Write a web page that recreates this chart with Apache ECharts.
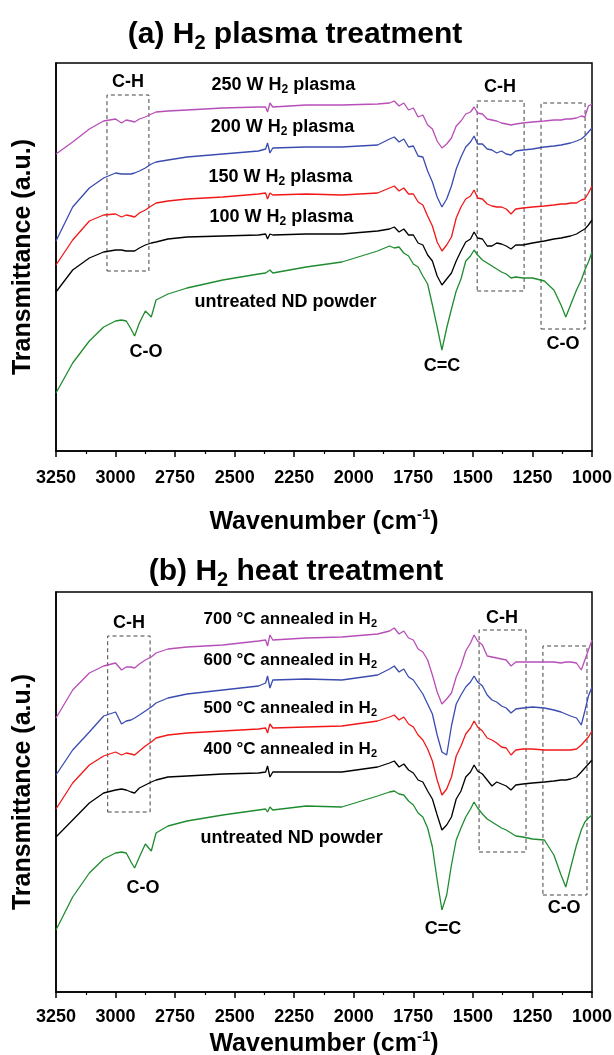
<!DOCTYPE html>
<html>
<head>
<meta charset="utf-8">
<script src="https://cdn.jsdelivr.net/npm/echarts@6/dist/echarts.min.js"></script>
<style>html,body{margin:0;padding:0;background:#fff}#chart{width:614px;height:1055px}</style>
</head>
<body>
<div id="chart"></div>
<script>
// wavenumber grid shared by all spectra (cm-1)
const wn = [3250,3180,3110,3050,3000,2975,2955,2935,2920,2900,2875,2850,2830,2780,2700,2550,2400,2370,2362,2352,2340,2200,2050,1900,
  1850,1830,1810,1790,1770,1750,1730,1710,1690,1670,1650,1630,1610,1590,1570,1550,1530,1510,1495,1480,
  1460,1440,1420,1400,1380,1360,1340,1320,1290,1250,1200,1160,1130,1110,1090,1065,1045,1030,1015,1000]

// (a) H2 plasma treatment, transmittance (a.u., offset stacked)
const plasma250 = [297,309,322,330,332,328,331,330,329,332,334,337,339,340,341,343,344,344,339,348,344,346,346,347,
  348,350,345,348,341,343,334,336,326,322,310,303,307,313,325,330,337,339,344,338,
  337,332,331,330,328,327,326,327,328,329,330,331,331,332,332,333,335,334,345,347]
const plasma200 = [210,244,263,273,278,277,277,277,278,280,283,287,289,291,294,297,300,302,308,298,303,304,304,306,
  312,314,309,312,304,305,295,294,280,269,254,244,252,265,282,294,304,309,315,307,
  307,302,301,298,300,297,296,300,301,302,304,305,306,307,308,310,312,315,319,323]
const plasma150 = [186,211,230,236,237,234,236,235,234,238,241,245,248,250,252,254,257,258,252,258,256,257,256,258,
  263,265,260,263,257,257,249,246,235,225,209,200,206,214,233,244,252,255,261,253,
  252,247,245,244,244,242,237,242,243,244,245,246,247,247,248,248,251,252,258,265]
const plasma100 = [159,181,193,199,201,201,200,200,200,203,206,208,209,212,214,215,216,217,212,217,216,217,217,220,
  222,224,219,222,216,216,208,206,196,190,175,166,172,178,190,200,209,212,219,213,
  212,205,205,208,207,205,202,206,206,208,210,212,213,214,215,217,220,222,226,231]
const untreatedA = [58,88,110,124,130,131,130,122,115,128,140,134,151,157,163,171,177,178,176,181,178,184,189,
  200,205,203,204,198,195,187,184,175,167,146,124,101,123,142,160,172,190,195,201,196,
  191,188,185,182,179,177,173,174,173,173,170,161,146,134,146,161,171,181,189,199]

// (b) H2 heat treatment
const heat700 = [274,302,319,326,329,322,325,325,324,328,332,335,339,343,345,347,351,352,346,357,352,354,355,358,
  361,364,358,361,354,352,343,340,332,317,300,288,293,299,315,326,341,349,357,351,
  347,336,335,334,333,332,326,330,330,330,330,330,329,330,330,329,322,332,342,352]
const heat600 = [217,242,260,276,280,268,271,272,274,277,281,285,289,294,298,302,306,309,316,304,312,313,312,317,
  323,326,320,323,315,312,305,298,288,278,257,240,237,266,288,297,305,310,316,310,
  306,297,292,290,286,284,279,283,284,285,284,282,280,278,276,274,267,281,296,305]
const heat500 = [183,209,227,236,240,237,239,238,237,241,246,250,254,257,259,261,263,264,259,268,264,265,266,271,
  275,277,272,275,268,265,257,252,243,231,212,197,203,215,236,246,258,264,271,265,
  261,254,252,249,245,244,237,242,243,243,242,242,242,242,242,243,247,251,255,261]
const heat400 = [155,172,189,199,202,203,202,200,199,204,207,210,212,215,216,218,219,220,226,215,220,220,220,225,
  229,231,225,228,222,219,212,210,201,193,177,162,167,175,193,201,215,220,227,221,
  218,212,206,210,208,206,202,207,208,209,210,211,212,212,213,215,220,224,228,232]
const untreatedB = [62,95,119,133,139,140,139,130,124,135,148,141,159,166,171,177,182,183,180,185,182,186,185,196,
  200,201,198,197,191,187,179,175,164,145,112,82,97,127,152,164,175,183,190,184,
  178,173,170,167,164,162,159,156,155,153,152,137,117,105,124,147,162,170,174,177]

// dashed boxes: [wn1, y1, wn2, y2]
const boxesA = [[3036,180,2860,356],[1482,160,1285,350],[1214,122,1029,348]]
const boxesB = [[3033,180,2855,356],[1474,140,1277,362],[1206,97,1021,346]]

// text notes: [text, wn, y, anchor] (l = starts at point, c = centred)
const notesA = [
  ['{n|C-H}', 2948, 369, 'c'], ['{n|C-H}', 1386, 364, 'c'], ['{n|C-O}', 1122, 107, 'c'],
  ['{n|C=C}', 1630, 85, 'c'], ['{n|C-O}', 2872, 99, 'c'],
  ['{n|250 W H}{s|2}{n| plasma}', 2599, 366, 'l'],
  ['{n|200 W H}{s|2}{n| plasma}', 2603, 324, 'l'],
  ['{n|150 W H}{s|2}{n| plasma}', 2612, 274, 'l'],
  ['{n|100 W H}{s|2}{n| plasma}', 2608, 234, 'l'],
  ['{n|untreated ND powder}', 2671, 149, 'l']
]
const notesB = [
  ['{n|C-H}', 2944, 369, 'c'], ['{n|C-H}', 1378, 374, 'c'], ['{n|C-O}', 1117, 84, 'c'],
  ['{n|C=C}', 1625, 63, 'c'], ['{n|C-O}', 2885, 104, 'c'],
  ['{m|700 °C annealed in H}{t|2}', 2633, 373, 'l'],
  ['{m|600 °C annealed in H}{t|2}', 2633, 332, 'l'],
  ['{m|500 °C annealed in H}{t|2}', 2633, 284, 'l'],
  ['{m|400 °C annealed in H}{t|2}', 2633, 243, 'l'],
  ['{n|untreated ND powder}', 2645, 154, 'l']
]

const colors = ['#B84EB8', '#3A4CB0', '#F21818', '#000000', '#1F8C30']
const F = "'Liberation Sans', Arial, sans-serif"

const noteRich = {
  n: {fontFamily: F, fontSize: 18, fontWeight: 'bold', color: '#000', lineHeight: 22},
  s: {fontFamily: F, fontSize: 12, fontWeight: 'bold', color: '#000', lineHeight: 12, verticalAlign: 'bottom'},
  m: {fontFamily: F, fontSize: 17, fontWeight: 'bold', color: '#000', lineHeight: 21},
  t: {fontFamily: F, fontSize: 11, fontWeight: 'bold', color: '#000', lineHeight: 11, verticalAlign: 'bottom'}
}
const titleRich = {
  n: {fontFamily: F, fontSize: 30, fontWeight: 'bold', color: '#000', lineHeight: 36},
  s: {fontFamily: F, fontSize: 20, fontWeight: 'bold', color: '#000', lineHeight: 20, verticalAlign: 'bottom'}
}
const nameRich = {
  n: {fontFamily: F, fontSize: 25, fontWeight: 'bold', color: '#000', lineHeight: 30},
  p: {fontFamily: F, fontSize: 15, fontWeight: 'bold', color: '#000', lineHeight: 15, verticalAlign: 'top'}
}

function xAxis(i, margin, gap) {
  return {
    gridIndex: i, type: 'value', min: 1000, max: 3250, interval: 250, inverse: true,
    axisLine: {show: true, onZero: false, lineStyle: {color: '#000', width: 1.5}},
    axisTick: {show: true, length: 6, lineStyle: {color: '#000', width: 1.5}},
    minorTick: {show: true, splitNumber: 2, length: 3, lineStyle: {color: '#000', width: 1.2}},
    splitLine: {show: false},
    axisLabel: {margin: margin, fontFamily: F, fontSize: 18, fontWeight: 'bold', color: '#000', formatter: v => String(v)},
    name: '{n|Wavenumber (cm}{p|-1}{n|)}', nameLocation: 'middle', nameGap: gap,
    nameTextStyle: {rich: nameRich}
  }
}
function yAxis(i, max) {
  return {
    gridIndex: i, type: 'value', min: 0, max: max,
    axisLine: {show: true, lineStyle: {color: '#000', width: 1.5}},
    axisTick: {show: false}, axisLabel: {show: false}, splitLine: {show: false},
    name: 'Transmittance (a.u.)', nameLocation: 'middle', nameGap: 20,
    nameTextStyle: {fontFamily: F, fontSize: 25, fontWeight: 'bold', color: '#000'}
  }
}
function spectrum(i, vals, color, boxes) {
  const s = {
    type: 'line', xAxisIndex: i, yAxisIndex: i, showSymbol: false, symbol: 'none',
    data: wn.map((w, k) => [w, vals[k]]),
    lineStyle: {color: color, width: 1.3}, itemStyle: {color: color}, z: 3
  }
  if (boxes) {
    s.markArea = {
      silent: true,
      itemStyle: {color: 'rgba(0,0,0,0)', borderColor: '#444', borderWidth: 1, borderType: [4, 3]},
      data: boxes.map(b => [{coord: [b[0], b[1]]}, {coord: [b[2], b[3]]}])
    }
  }
  return s
}
function notes(i, list) {
  return {
    type: 'scatter', xAxisIndex: i, yAxisIndex: i, symbolSize: 1, silent: true, z: 5,
    itemStyle: {color: 'rgba(0,0,0,0)', opacity: 1},
    data: list.map(n => ({
      value: [n[1], n[2]],
      label: {
        show: true, formatter: n[0], position: n[3] === 'l' ? 'right' : 'inside', distance: 0,
        color: '#000', opacity: 1, textBorderWidth: 0, rich: noteRich
      }
    }))
  }
}

const chart = echarts.init(document.getElementById('chart'))
chart.setOption({
  animation: false,
  backgroundColor: '#fff',
  title: [
    {text: '{n|(a) H}{s|2}{n| plasma treatment}', left: 290, top: 12, textAlign: 'center', textStyle: {rich: titleRich}},
    {text: '{n|(b) H}{s|2}{n| heat treatment}', left: 291, top: 549, textAlign: 'center', textStyle: {rich: titleRich}}
  ],
  grid: [
    {left: 56, top: 63, width: 536, height: 388, show: true, borderColor: '#000', borderWidth: 1.5, outerBoundsMode: 'none'},
    {left: 56, top: 592, width: 536, height: 400, show: true, borderColor: '#000', borderWidth: 1.5, outerBoundsMode: 'none'}
  ],
  xAxis: [xAxis(0, 18, 56), xAxis(1, 16, 37)],
  yAxis: [yAxis(0, 388), yAxis(1, 400)],
  series: [
    spectrum(0, plasma250, colors[0]),
    spectrum(0, plasma200, colors[1]),
    spectrum(0, plasma150, colors[2]),
    spectrum(0, plasma100, colors[3]),
    spectrum(0, untreatedA, colors[4], boxesA),
    notes(0, notesA),
    spectrum(1, heat700, colors[0]),
    spectrum(1, heat600, colors[1]),
    spectrum(1, heat500, colors[2]),
    spectrum(1, heat400, colors[3]),
    spectrum(1, untreatedB, colors[4], boxesB),
    notes(1, notesB)
  ]
})
</script>
</body>
</html>
